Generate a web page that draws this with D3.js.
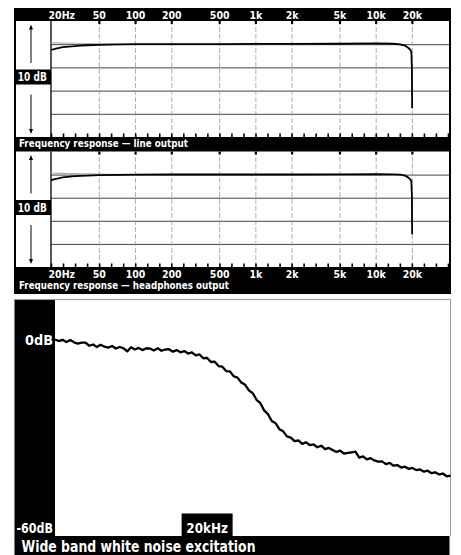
<!DOCTYPE html>
<html><head><meta charset="utf-8">
<script src="https://cdn.jsdelivr.net/npm/d3@7"></script>
<style>
html,body{margin:0;padding:0;background:#fff;}
svg{display:block;}
text{font-family:"Liberation Sans Narrow","DejaVu Sans Condensed","Roboto Condensed",sans-serif;font-weight:bold;}
</style></head><body>
<svg id="chart" width="461" height="555"></svg>
<script>
// ---- frequency axis of the two response plots ----
const freqTicks = [20, 50, 100, 200, 500, 1000, 2000, 5000, 10000, 20000];
const freqTickLabels = ["20Hz", "50", "100", "200", "500", "1k", "2k", "5k", "10k", "20k"];
const levelGrid = [-30, -20, -10, 0];          // dB grid lines
const scaleLabel = "10 dB";

// ---- line output response (Hz, dB) ----
const lineFreq = [20, 22, 25, 30, 35, 40, 50, 70, 100, 200, 500, 1000, 2000, 5000, 10000, 14000, 16000, 17500, 18600, 19500, 19800, 20000, 20100];
const lineDb   = [-2.5, -1.9, -1.3, -0.9, -0.6, -0.45, -0.25, -0.1, 0, 0.05, 0.05, 0.1, 0.1, 0.2, 0.35, 0.2, -0.05, -0.6, -1.5, -2.5, -3.5, -10, -27.5];
// second channel, only separated at the bass end
const lineFreqR = [20, 25, 30, 40, 50, 70];
const lineDbR   = [0.6, 0.5, 0.4, 0.3, 0.2, 0.05];

// ---- headphones output response (Hz, dB) ----
const phonesFreq = [20, 22, 25, 30, 35, 40, 50, 70, 100, 200, 500, 1000, 2000, 5000, 10000, 14000, 16000, 17500, 18600, 19500, 19800, 20000, 20100];
const phonesDb   = [-2.4, -1.8, -1.2, -0.8, -0.55, -0.4, -0.2, -0.1, 0, 0.05, 0.05, 0.05, 0.05, 0.1, 0.15, 0.1, 0, -0.4, -1.2, -2.2, -3, -9, -25.8];
const phonesFreqR = [20, 25, 30, 40, 50, 70];
const phonesDbR   = [0.6, 0.5, 0.4, 0.3, 0.2, 0.05];

const captions = ["Frequency response \u2014 line output", "Frequency response \u2014 headphones output", "Wide band white noise excitation"];

// ---- white noise spectrum (kHz, dB) ----
const noiseKHz = [0,0.5,1,1.5,2,2.5,3,3.5,4,4.5,5,5.5,6,6.5,7,7.5,8,8.5,9,9.5,10,10.5,11,11.5,12,12.5,13,13.5,14,14.5,15,15.5,16,16.5,17,17.5,18,18.5,19,19.5,20,20.5,21,21.5,22,22.5,23,23.5,24,24.5,25,25.5,26,26.5,27,27.5,28,28.5,29,29.5,30,30.5,31,31.5,32,32.5,33,33.5,34,34.5,35,35.5,36,36.5,37,37.5,38,38.5,39,39.5,40,40.5,41,41.5,42,42.5,43,43.5,44,44.5,45,45.5,46,46.5,47,47.5,48,48.5,49,49.5,50,50.5,51,51.5,52];
const noiseDb = [0.2,-0.3,0.1,-0.6,0.0,-0.7,-1.1,-0.8,-0.8,-1.8,
  -1.4,-2.2,-1.5,-2.1,-2.4,-1.9,-2.7,-2.2,-2.6,-3.6,
  -2.3,-3.0,-2.5,-3.2,-2.6,-2.7,-3.3,-2.6,-3.4,-3.0,
  -2.9,-3.7,-3.2,-3.9,-3.5,-4.3,-3.9,-4.9,-4.6,-5.8,
  -5.7,-7.0,-6.9,-8.3,-8.5,-9.9,-10.0,-11.6,-12.0,-13.6,
  -14.3,-16.1,-17.0,-19.1,-20.2,-22.5,-23.7,-25.9,-26.6,-28.5,
  -29.2,-30.8,-31.2,-32.3,-32.1,-33.2,-32.7,-33.6,-33.4,-34.3,
  -33.8,-34.9,-34.5,-35.2,-35.8,-35.4,-36.3,-36.1,-35.9,-35.7,
  -37.6,-37.2,-38.2,-37.8,-38.5,-38.9,-38.8,-39.7,-39.3,-40.2,
  -40.0,-40.8,-40.5,-41.2,-40.9,-41.6,-41.4,-42.1,-41.8,-42.6,
  -42.3,-43.0,-42.7,-43.6,-43.4];
const noiseLevelTicks = [0, -60];
const noiseLevelLabels = ["0dB", "-60dB"];
const noiseMarkerKHz = 20;
const noiseMarkerLabel = "20kHz";

// ================= drawing =================
const svg = d3.select("#chart");
const frameL = 14, frameR = 451;
const plotL = 51, plotR = 449;

const x = d3.scaleLog().domain([20, 40700]).range([plotL, plotR]);
const minorTicks = d3.range(0, 34).map(k => 20 * Math.pow(10, k / 10));

const panels = [
  {top: 21, bottom: 137, freq: lineFreq, db: lineDb, freqR: lineFreqR, dbR: lineDbR},
  {top: 151.5, bottom: 267, freq: phonesFreq, db: phonesDb, freqR: phonesFreqR, dbR: phonesDbR}
];

// black bars and frame of the response plots
svg.append("rect").attr("x", frameL).attr("y", 8).attr("width", frameR - frameL).attr("height", 13).attr("fill", "#000");
svg.append("rect").attr("x", frameL).attr("y", 137).attr("width", frameR - frameL).attr("height", 14.5).attr("fill", "#000");
svg.append("rect").attr("x", frameL).attr("y", 267).attr("width", frameR - frameL).attr("height", 27).attr("fill", "#000");
svg.append("rect").attr("x", frameL).attr("y", 8).attr("width", 2).attr("height", 286).attr("fill", "#000");
svg.append("rect").attr("x", 449).attr("y", 8).attr("width", 2).attr("height", 286).attr("fill", "#000");

function arrow(g, cx, y1, y2) {
  // line from y1 to y2 with a head at y2
  const dir = y2 > y1 ? 1 : -1;
  g.append("line").attr("x1", cx).attr("x2", cx).attr("y1", y1).attr("y2", y2 - dir * 4)
    .attr("stroke", "#000").attr("stroke-width", 1);
  g.append("path").attr("d", `M${cx - 2},${y2 - dir * 5} L${cx + 2},${y2 - dir * 5} L${cx},${y2} Z`).attr("fill", "#000");
}

panels.forEach((p, i) => {
  const y = d3.scaleLinear().domain([-40, 10]).range([p.bottom, p.top]);
  const g = svg.append("g");
  const h = p.bottom - p.top;

  // horizontal level grid
  g.append("g").attr("transform", `translate(${plotL},0)`)
    .call(d3.axisLeft(y).tickValues(levelGrid).tickSize(-(plotR - plotL)).tickFormat(""))
    .call(a => a.select(".domain").remove())
    .call(a => a.selectAll("line").attr("stroke", "#444").attr("stroke-width", 1));

  // vertical frequency grid
  g.append("g").attr("transform", `translate(0,${p.bottom})`)
    .call(d3.axisBottom(x).tickValues(freqTicks.slice(1)).tickSize(-h).tickFormat(""))
    .call(a => a.select(".domain").remove())
    .call(a => a.selectAll("line").attr("stroke", "#9a9a9a").attr("stroke-width", 0.8).attr("stroke-dasharray", "5,2"));

  // minor ticks rising from the bottom edge
  g.append("g").attr("transform", `translate(0,${p.bottom})`)
    .call(d3.axisBottom(x).tickValues(minorTicks).tickSize(-3.5).tickFormat(""))
    .call(a => a.select(".domain").remove())
    .call(a => a.selectAll("line").attr("stroke", "#000").attr("stroke-width", 1.6));

  // markers under the top edge at the labelled frequencies
  g.append("g").attr("transform", `translate(0,${p.top})`)
    .call(d3.axisTop(x).tickValues(freqTicks.slice(1)).tickSize(-3).tickFormat(""))
    .call(a => a.select(".domain").remove())
    .call(a => a.selectAll("line").attr("stroke", "#000").attr("stroke-width", 2.2));

  // left edge of the plot
  g.append("line").attr("x1", plotL).attr("x2", plotL).attr("y1", p.top).attr("y2", p.bottom)
    .attr("stroke", "#000").attr("stroke-width", 1.3);

  // scale column: arrows and the "10 dB" box
  const boxTop = p.top + 48.5;
  arrow(g, 31, p.top + 42, p.top + 3.5);
  arrow(g, 31, p.top + 73.5, p.bottom - 3);
  g.append("rect").attr("x", frameL).attr("y", boxTop).attr("width", plotL - frameL).attr("height", 15).attr("fill", "#000");
  g.append("text").attr("x", 32.3).attr("y", boxTop + 11.6).attr("text-anchor", "middle")
    .attr("fill", "#fff").attr("font-size", 11.5).attr("textLength", 29).attr("lengthAdjust", "spacingAndGlyphs")
    .text(scaleLabel);

  // response traces
  const line = d3.line().x(d => x(d[0])).y(d => y(d[1]));
  g.append("path").datum(p.freqR.map((f, k) => [f, p.dbR[k]]))
    .attr("d", line).attr("fill", "none").attr("stroke", "#b0b0b0").attr("stroke-width", 1.2);
  g.append("path").datum(p.freq.map((f, k) => [f, p.db[k]]))
    .attr("d", line).attr("fill", "none").attr("stroke", "#000").attr("stroke-width", 1.8)
    .attr("stroke-linejoin", "round");
});

// frequency labels: top bar and bottom bar
function freqLabels(axis, yPos, pad) {
  svg.append("g").attr("transform", `translate(0,${yPos})`)
    .call(axis(x).tickValues(freqTicks).tickSize(0).tickPadding(pad).tickFormat((d, k) => freqTickLabels[k]))
    .call(a => a.select(".domain").remove())
    .call(a => a.selectAll("text").attr("fill", "#fff").attr("font-size", 10.5)
      .attr("font-family", null))
    .call(a => a.selectAll(".tick").filter(d => d === 20).select("text")
      .attr("text-anchor", "start").attr("x", -3));
}
freqLabels(d3.axisTop, 21, 2);
freqLabels(d3.axisBottom, 267, 3.6);

// captions of the response plots
svg.append("text").attr("x", 19).attr("y", 146.6).attr("fill", "#fff").attr("font-size", 10.5)
  .attr("textLength", 169).attr("lengthAdjust", "spacingAndGlyphs").text(captions[0]);
svg.append("text").attr("x", 19).attr("y", 288.6).attr("fill", "#fff").attr("font-size", 10.5)
  .attr("textLength", 210).attr("lengthAdjust", "spacingAndGlyphs").text(captions[1]);

// ================= noise spectrum panel =================
const nL = 55, nR = 450.5, nT = 299.5, nB = 536;
const xN = d3.scaleLinear().domain([0, 52]).range([nL, nR]);
const yN = d3.scaleLinear().domain([-62.7, 13]).range([nB, nT]);

svg.append("path").attr("d", `M${frameL},${nT} H${nR} V${nB}`)
  .attr("fill", "none").attr("stroke", "#9a9a9a").attr("stroke-width", 1);
svg.append("rect").attr("x", frameL + 0.5).attr("y", nT + 0.5).attr("width", nL - frameL - 0.5).attr("height", nB - nT).attr("fill", "#000");
svg.append("rect").attr("x", frameL + 0.5).attr("y", nB).attr("width", nR - frameL - 1.5).attr("height", 555 - nB).attr("fill", "#000");

// level labels inside the black column
svg.append("g").attr("transform", `translate(${nL},0)`)
  .call(d3.axisLeft(yN).tickValues(noiseLevelTicks).tickSize(0).tickPadding(2)
    .tickFormat((d, k) => noiseLevelLabels[k]))
  .call(a => a.select(".domain").remove())
  .call(a => a.selectAll("text").attr("fill", "#fff").attr("font-size", 14.5).attr("font-family", null)
    .attr("dy", "0.33em")
    .attr("textLength", (d, k) => k === 0 ? 28 : 36.5).attr("lengthAdjust", "spacingAndGlyphs"));

// 20 kHz marker box on the bottom edge
const mx = xN(noiseMarkerKHz);
svg.append("rect").attr("x", mx - 25.5).attr("y", 513.5).attr("width", 51).attr("height", nB - 513.5).attr("fill", "#000");
svg.append("text").attr("x", mx).attr("y", 533.3).attr("text-anchor", "middle").attr("fill", "#fff")
  .attr("font-size", 14.5).attr("textLength", 41.5).attr("lengthAdjust", "spacingAndGlyphs").text(noiseMarkerLabel);

// spectrum trace
svg.append("path").datum(noiseKHz.map((f, k) => [f, noiseDb[k]]))
  .attr("d", d3.line().x(d => xN(d[0])).y(d => yN(d[1])))
  .attr("fill", "none").attr("stroke", "#000").attr("stroke-width", 2.3).attr("stroke-linejoin", "round");

svg.append("text").attr("x", 21.5).attr("y", 551.8).attr("fill", "#fff").attr("font-size", 16.5)
  .attr("textLength", 234).attr("lengthAdjust", "spacingAndGlyphs").text(captions[2]);
</script>
</body></html>
